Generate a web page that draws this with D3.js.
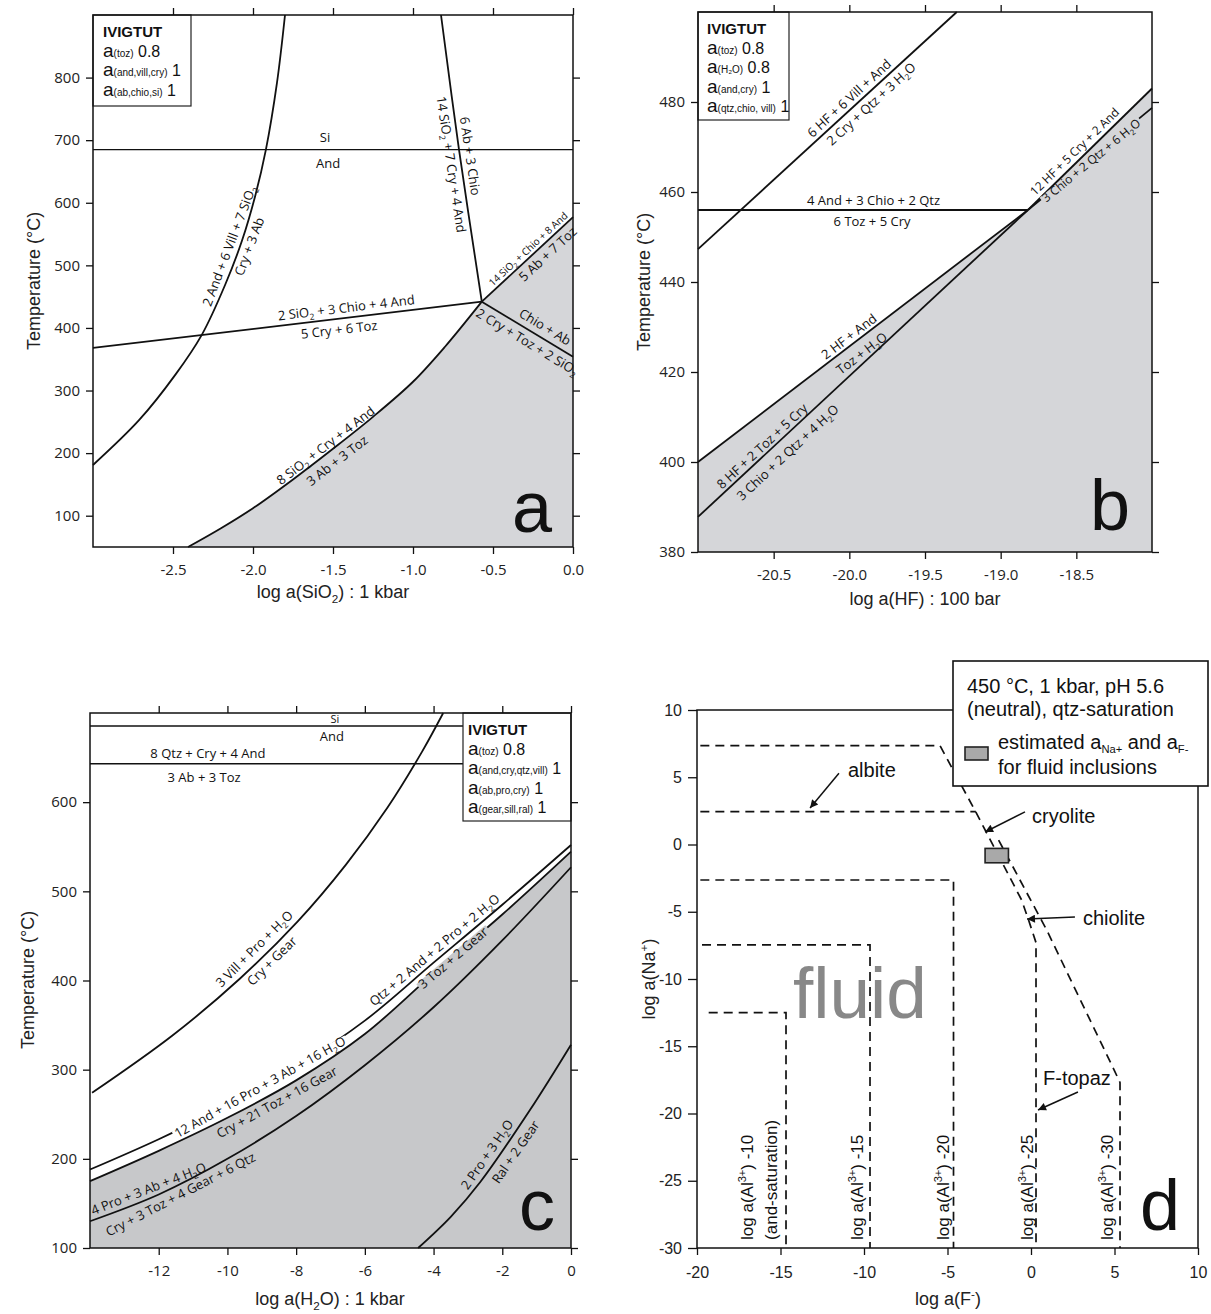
<!DOCTYPE html>
<html>
<head>
<meta charset="utf-8">
<script src="https://cdn.jsdelivr.net/npm/d3@7"></script>
<style>
  body { margin: 0; background: #fff; }
</style>
</head>
<body>
<svg id="fig" width="1211" height="1314"></svg>
<script>
var FR = '"Open Sans", "DejaVu Sans", sans-serif';   // reaction labels, ticks
var FA = '"Liberation Sans", Arial, sans-serif';       // titles, panel d
var GREY_AB = "#d5d6d9", GREY_C = "#c7c8ca";

// ---------------- panel a : log a(SiO2) vs T
var aXTicks = [-2.5, -2, -1.5, -1, -0.5, 0];
var aYTicks = [100, 200, 300, 400, 500, 600, 700, 800];
var aSiAnd = [[-3, 685], [0, 685]];
var aVill = [[-3, 181], [-2.711, 253], [-2.486, 325], [-2.32, 389], [-2.174, 469], [-2.068, 540], [-1.985, 612], [-1.92, 684], [-1.85, 792], [-1.80, 900]];
var aChio = [[-0.825, 900], [-0.7125, 685], [-0.57, 442]];
var aCryToz = [[-3, 368], [-0.57, 442]];
var aAbToz = [[-0.57, 442], [0, 577]];
var aChioAb = [[-0.57, 442], [0, 354]];
var aAnd = [[-2.406, 50], [-2.2, 80], [-2.0, 112], [-1.75, 158], [-1.5, 207], [-1.25, 258], [-1.0, 314], [-0.8, 370], [-0.57, 442]];
// [text, line, position on line, offset px, font size]
var aLabels = [
  ["2 And + 6 Vill + 7 SiO_{2}", aVill, -2.09, 10, 13],
  ["Cry + 3 Ab", aVill, -2.075, -9, 13],
  ["14 SiO_{2} + 7 Cry + 4 And", aChio, -0.70, -10, 13],
  ["6 Ab + 3 Chio", aChio, -0.705, 10, 13],
  ["2 SiO_{2} + 3 Chio + 4 And", aCryToz, -1.41, 10, 13],
  ["5 Cry + 6 Toz", aCryToz, -1.47, -11, 13],
  ["14 SiO_{2} + Chio + 8 And", aAbToz, -0.25, 7, 10],
  ["5 Ab + 7 Toz", aAbToz, -0.2, -10, 13],
  ["Chio + Ab", aChioAb, -0.21, 11, 13],
  ["2 Cry + Toz + 2 SiO_{2}", aChioAb, -0.25, -11, 13],
  ["8 SiO_{2} + Cry + 4 And", aAnd, -1.52, 7, 13],
  ["3 Ab + 3 Toz", aAnd, -1.52, -12, 13]
];
var aFree = [["Si", -1.55, 705], ["And", -1.53, 663]];
var aLegend = [["(toz)", "0.8"], ["(and,vill,cry)", "1"], ["(ab,chio,si)", "1"]];

// ---------------- panel b : log a(HF) vs T
var bXTicks = [-20.5, -20, -19.5, -19, -18.5];
var bYTicks = [380, 400, 420, 440, 460, 480];
var bVill = [[-21, 447.3], [-19.29, 500]];
var bAndQtz = [[-21, 456], [-18.82, 456]];
var bHFAnd = [[-21, 400], [-18.82, 456]];
var bHFToz = [[-21, 387.8], [-18.82, 456]];
var bHFCry = [[-18.82, 456], [-18, 483]];
var bExt = [[-18.82, 456], [-18, 478.7]];
var bLabels = [
  ["6 HF + 6 Vill + And", bVill, -19.96, 9, 13],
  ["2 Cry + Qtz + 3 H_{2}O", bVill, -19.90, -10, 13],
  ["4 And + 3 Chio + 2 Qtz", bAndQtz, -19.84, 10, 13],
  ["6 Toz + 5 Cry", bAndQtz, -19.85, -11, 13],
  ["12 HF + 5 Cry + 2 And", bHFCry, -18.47, 9, 12],
  ["2 HF + And", bHFAnd, -19.97, 8, 13],
  ["Toz + H_{2}O", bHFAnd, -19.97, -13, 13],
  ["8 HF + 2 Toz + 5 Cry", bHFToz, -20.54, 8, 13],
  ["3 Chio + 2 Qtz + 4 H_{2}O", bHFToz, -20.47, -14, 13]
];
var bOnLine = [["3 Chio + 2 Qtz + 6 H_{2}O", bExt, -18.41, -2, 12]];
var bLegend = [["(toz)", "0.8"], ["(H\u2082O)", "0.8"], ["(and,cry)", "1"], ["(qtz,chio, vill)", "1"]];

// ---------------- panel c : log a(H2O) vs T
var cXTicks = [-12, -10, -8, -6, -4, -2, 0];
var cYTicks = [100, 200, 300, 400, 500, 600];
var cSiAnd = [[-14, 685.4], [0, 685.4]];
var cQtzAb = [[-14, 643], [0, 643]];
var cVill = [[-13.94, 274], [-11.61, 338], [-9.64, 402], [-7.96, 466], [-6.55, 530], [-5.34, 594], [-4.33, 657], [-3.72, 700]];
var cLineA = [[-14, 188], [-12, 222], [-10, 260], [-8, 303], [-6, 355], [-4, 420], [-2, 485], [0, 552]];
var cLineB = [[-14, 175], [-12, 209], [-10, 246], [-8, 288], [-6, 340], [-4, 408], [-2, 474], [0, 544.5]];
var cLineC = [[-14, 130], [-12, 160], [-10, 200], [-8, 248], [-6, 305], [-4, 370], [-2, 445], [0, 527]];
var cRal = [[-4.45, 100], [-3.5, 135], [-2.64, 174], [-1.19, 255], [0, 328]];
var cLabels = [
  ["3 Vill + Pro + H_{2}O", cVill, -8.99, 11, 13],
  ["Cry + Gear", cVill, -8.91, -10, 13],
  ["Cry + 21 Toz + 16 Gear", cLineB, -8.7, -10, 13],
  ["Qtz + 2 And + 2 Pro + 2 H_{2}O", cLineA, -3.8, 9, 13],
  ["4 Pro + 3 Ab + 4 H_{2}O", cLineC, -12.2, 9, 13],
  ["Cry + 3 Toz + 4 Gear + 6 Qtz", cLineC, -11.5, -10, 13],
  ["2 Pro + 3 H_{2}O", cRal, -2.2, 10, 13],
  ["Ral + 2 Gear", cRal, -1.9, -12, 13]
];
var cOnLine = [
  ["12 And + 16 Pro + 3 Ab + 16 H_{2}O", cLineA, -9.05, 0, 13, "#fff"],
  ["3 Toz + 2 Gear", cLineB, -3.45, -1, 13, GREY_C]
];
var cFree = [["Si", -6.87, 693.3, 11], ["And", -6.96, 674.2, 13], ["8 Qtz + Cry + 4 And", -10.57, 655, 13], ["3 Ab + 3 Toz", -10.68, 628, 13]];
var cLegend = [["(toz)", "0.8"], ["(and,cry,qtz,vill)", "1"], ["(ab,pro,cry)", "1"], ["(gear,sill,ral)", "1"]];

// ---------------- panel d : log a(F-) vs log a(Na+)
var dXTicks = [-20, -15, -10, -5, 0, 5, 10];
var dYTicks = [-30, -25, -20, -15, -10, -5, 0, 5, 10];
var dAl10 = [[-19.3, -12.5], [-14.67, -12.5], [-14.67, -30]];
var dAl15 = [[-19.7, -7.47], [-9.64, -7.47], [-9.64, -30]];
var dAl20 = [[-19.8, -2.64], [-4.64, -2.64], [-4.64, -30]];
var dAlbite = [[-19.8, 2.44], [-3.3, 2.44]];
var dAl25 = [[-19.8, 7.35], [-5.45, 7.35], [-3.3, 2.4], [-0.56, -4.13], [-0.15, -5.6], [0.3, -7.3], [0.3, -30]];
var dAl30 = [[-1.94, 0.33], [0.94, -6.36], [5.03, -16.9], [5.33, -17.7], [5.33, -30]];
var dInclusion = [[-2.75, -1.36], [-1.35, -0.29]];
var dNotes = [["albite", -10.96, 5.0], ["cryolite", 0.06, 1.6], ["chiolite", 3.11, -6.0], ["F-topaz", 0.72, -17.9]];
var dArrows = [[[-11.5, 5.3], [-13.23, 2.71]], [[-0.36, 2.42], [-2.75, 0.93]], [[2.63, -5.39], [-0.24, -5.54]], [[2.81, -18.4], [0.42, -19.74]]];
var dAlLabels = [["log a(Al^{3+}) -10", -17.0], ["(and-saturation)", -15.55], ["log a(Al^{3+}) -15", -10.42],
                 ["log a(Al^{3+}) -20", -5.27], ["log a(Al^{3+}) -25", -0.24], ["log a(Al^{3+}) -30", 4.55]];

var svg = d3.select("#fig");
svg.append("rect").attr("width", 1211).attr("height", 1314).attr("fill", "#fff");
svg.append("defs").append("marker").attr("id", "arr")
  .attr("viewBox", "0 0 10 10").attr("refX", 10).attr("refY", 5)
  .attr("markerWidth", 12).attr("markerHeight", 8).attr("markerUnits", "userSpaceOnUse").attr("orient", "auto")
  .append("path").attr("d", "M0,0L10,5L0,10z").attr("fill", "#111");

// text with _{sub} and ^{sup}
function rich(t, s, fs, small) {
  var re = /([_^])\{([^}]*)\}/g, last = 0, cur = 0, m;
  function add(str, off, size) {
    t.append("tspan").attr("dy", off - cur).attr("font-size", size || null).text(str);
    cur = off;
  }
  while ((m = re.exec(s)) !== null) {
    if (m.index > last) add(s.slice(last, m.index), 0);
    add(m[2], m[1] === "_" ? fs * 0.25 : -fs * 0.4, fs * (small || 0.65));
    last = re.lastIndex;
  }
  if (last < s.length) add(s.slice(last), 0);
}

function panel(l, r, t, b, xd, yd) {
  return {
    g: svg.append("g"), l: l, r: r, t: t, b: b,
    x: d3.scaleLinear().domain(xd).range([l, r]),
    y: d3.scaleLinear().domain(yd).range([b, t])
  };
}
function pt(p, d) { return [p.x(d[0]), p.y(d[1])]; }
function pathD(p, pts) {
  var ln = d3.line();
  if (pts.length > 2) ln.curve(d3.curveCatmullRom.alpha(0.5));
  return ln(pts.map(function(d) { return pt(p, d); }));
}
function drawLine(p, pts, w, dash) {
  p.g.append("path").attr("d", pathD(p, pts)).attr("fill", "none")
    .attr("stroke", "#111").attr("stroke-width", w || 1.8)
    .attr("stroke-dasharray", dash || null).attr("stroke-linejoin", "round");
}
// position and angle at X along a polyline, shifted off px towards the text top
function onLine(p, pts, X, off) {
  var i = 0;
  while (i < pts.length - 2 && pts[i + 1][0] < X) i++;
  var a = pt(p, pts[i]), b = pt(p, pts[i + 1]);
  var k = (p.x(X) - a[0]) / (b[0] - a[0]);
  var px = a[0] + k * (b[0] - a[0]), py = a[1] + k * (b[1] - a[1]);
  var len = Math.hypot(b[0] - a[0], b[1] - a[1]);
  var dx = (b[0] - a[0]) / len, dy = (b[1] - a[1]) / len;
  return { x: px + off * dy, y: py - off * dx, ang: Math.atan2(dy, dx) * 180 / Math.PI };
}
function label(p, s, x, y, ang, fs, bg, fam) {
  var g = p.g.append("g").attr("transform", "translate(" + x + "," + y + ") rotate(" + ang + ")");
  var r = bg ? g.append("rect") : null;
  var t = g.append("text").attr("y", fs * 0.35).attr("text-anchor", "middle")
    .attr("font-family", fam || FR).attr("font-size", fs).attr("fill", "#111");
  rich(t, s, fs);
  if (r) {
    var bb = t.node().getBBox();
    r.attr("x", bb.x - 2).attr("width", bb.width + 4).attr("y", -4).attr("height", 8).attr("fill", bg);
  }
}
function lineLabels(p, list) {
  list.forEach(function(d) {
    var q = onLine(p, d[1], d[2], d[3]);
    label(p, d[0], q.x, q.y, q.ang, d[4], d[5]);
  });
}
function axes(p, xt, yt, xf, yf, o) {
  o = o || {};
  var fs = o.fs || 15, fam = o.fam || FR;
  var gs = [];
  gs.push(p.g.append("g").attr("transform", "translate(" + p.l + ",0)")
    .call(d3.axisLeft(p.y).tickValues(yt).tickSize(o.ly || 7).tickPadding(6).tickFormat(yf)));
  gs.push(p.g.append("g").attr("transform", "translate(0," + p.b + ")")
    .call(d3.axisBottom(p.x).tickValues(xt).tickSize(7).tickPadding(o.pad || 10).tickFormat(xf)));
  if (!o.noTR) {
    gs.push(p.g.append("g").attr("transform", "translate(0," + p.t + ")")
      .call(d3.axisTop(p.x).tickValues(xt).tickSize(7).tickFormat("")));
    gs.push(p.g.append("g").attr("transform", "translate(" + p.r + ",0)")
      .call(d3.axisRight(p.y).tickValues(yt).tickSize(7).tickFormat("")));
  }
  gs.forEach(function(g) {
    g.select(".domain").remove();
    g.selectAll(".tick line").attr("stroke", "#111").attr("stroke-width", 1.3);
    g.selectAll(".tick text").attr("font-family", fam).attr("font-size", fs).attr("fill", "#222");
  });
}
function frame(p) {
  p.g.append("rect").attr("x", p.l).attr("y", p.t).attr("width", p.r - p.l).attr("height", p.b - p.t)
    .attr("fill", "none").attr("stroke", "#111").attr("stroke-width", 1.5);
}
function titles(p, xs, ys, xpos, ypos) {
  var t = p.g.append("text").attr("x", xpos[0]).attr("y", xpos[1]).attr("text-anchor", "middle")
    .attr("font-family", FA).attr("font-size", 18).attr("fill", "#222");
  rich(t, xs, 18);
  var u = p.g.append("text").attr("transform", "translate(" + ypos[0] + "," + ypos[1] + ") rotate(-90)")
    .attr("text-anchor", "middle").attr("font-family", FA).attr("font-size", 18).attr("fill", "#222");
  rich(u, ys, 18);
}
function ivigtut(p, x0, y0, w, h, rows, tx) {
  var g = p.g.append("g").attr("transform", "translate(" + x0 + "," + y0 + ")");
  g.append("rect").attr("width", w).attr("height", h).attr("fill", "#fff").attr("stroke", "#222").attr("stroke-width", 1.2);
  g.append("text").attr("x", tx).attr("y", 22).attr("font-family", FA).attr("font-weight", "bold")
    .attr("font-size", 15).attr("fill", "#111").text("IVIGTUT");
  rows.forEach(function(r, i) {
    var t = g.append("text").attr("x", tx).attr("y", 42 + i * 19.4).attr("font-family", FA).attr("fill", "#111");
    t.append("tspan").attr("font-size", 19).text("a");
    t.append("tspan").attr("font-size", 10).text(r[0]);
    t.append("tspan").attr("font-size", 16).text(" " + r[1]);
  });
}
function letter(p, s, X, Y) {
  p.g.append("text").attr("x", p.x(X)).attr("y", p.y(Y)).attr("text-anchor", "end")
    .attr("font-family", FA).attr("font-size", 72).attr("fill", "#111").text(s);
}
var f1 = function(d) { return d.toFixed(1); };
var f0 = function(d) { return String(d); };

// ===== panel a
var pa = panel(93, 573, 15, 547, [-3, 0], [50, 900]);
pa.g.append("path").attr("fill", GREY_AB)
  .attr("d", pathD(pa, aAnd) + "L" + pt(pa, [0, 577]) + "L" + pt(pa, [0, 50]) + "Z");
drawLine(pa, aSiAnd, 1.3);
[aVill, aChio, aCryToz, aAbToz, aChioAb, aAnd].forEach(function(l) { drawLine(pa, l); });
lineLabels(pa, aLabels);
aFree.forEach(function(d) { label(pa, d[0], pa.x(d[1]), pa.y(d[2]), 0, 13); });
letter(pa, "a", -0.131, 74);
ivigtut(pa, pa.l, pa.t, 98, 91, aLegend, 10);
frame(pa);
axes(pa, aXTicks, aYTicks, f1, f0);
titles(pa, "log a(SiO_{2}) : 1 kbar", "Temperature (\u00B0C)", [333, 598], [40, 281]);

// ===== panel b
var pb = panel(698, 1152, 12, 552, [-21, -18], [380, 500]);
pb.g.append("path").attr("fill", GREY_AB)
  .attr("d", d3.line()([pt(pb, bHFAnd[0]), pt(pb, bHFAnd[1]), pt(pb, bHFCry[1]), pt(pb, [-18, 380]), pt(pb, [-21, 380])]) + "Z");
[bVill, bAndQtz, bHFAnd, bHFToz, bHFCry, bExt].forEach(function(l) { drawLine(pb, l); });
lineLabels(pb, bLabels);
bOnLine.forEach(function(d) { d[5] = GREY_AB; });
lineLabels(pb, bOnLine);
letter(pb, "b", -18.145, 384.9);
ivigtut(pb, pb.l, pb.t, 91, 108, bLegend, 9);
frame(pb);
axes(pb, bXTicks, bYTicks, f1, f0);
titles(pb, "log a(HF) : 100 bar", "Temperature (\u00B0C)", [925, 605], [650, 282]);

// ===== panel c
var pc = panel(90, 571, 713, 1248, [-14, 0], [100, 700]);
pc.g.append("path").attr("fill", GREY_C)
  .attr("d", pathD(pc, cLineB) + "L" + pt(pc, [0, 100]) + "L" + pt(pc, [-14, 100]) + "Z");
drawLine(pc, cSiAnd, 1.3);
drawLine(pc, cQtzAb, 1.5);
[cVill, cLineA, cLineB, cLineC, cRal].forEach(function(l) { drawLine(pc, l); });
lineLabels(pc, cLabels);
lineLabels(pc, cOnLine);
cFree.forEach(function(d) { label(pc, d[0], pc.x(d[1]), pc.y(d[2]), 0, d[3]); });
letter(pc, "c", -0.467, 120);
ivigtut(pc, pc.r - 108, pc.t, 108, 108, cLegend, 5);
frame(pc);
axes(pc, cXTicks, cYTicks, f0, f0);
titles(pc, "log a(H_{2}O) : 1 kbar", "Temperature (\u00B0C)", [330, 1305], [34, 980]);

// ===== panel d
var pd = panel(697, 1198, 710, 1248, [-20, 10], [-30, 10]);
frame(pd);
axes(pd, dXTicks, dYTicks, f0, f0, { noTR: true, fs: 16, fam: FA, ly: 9, pad: 12 });
[dAl10, dAl15, dAl20, dAlbite, dAl25, dAl30].forEach(function(l) {
  pd.g.append("path").attr("d", d3.line()(l.map(function(d) { return pt(pd, d); })))
    .attr("fill", "none").attr("stroke", "#111").attr("stroke-width", 1.7).attr("stroke-dasharray", "9,6");
});
pd.g.append("rect").attr("x", pd.x(dInclusion[0][0])).attr("y", pd.y(dInclusion[1][1]))
  .attr("width", pd.x(dInclusion[1][0]) - pd.x(dInclusion[0][0]))
  .attr("height", pd.y(dInclusion[0][1]) - pd.y(dInclusion[1][1]))
  .attr("fill", "#a9a9a9").attr("stroke", "#222").attr("stroke-width", 1.6);
pd.g.append("text").attr("x", pd.x(-14.25)).attr("y", pd.y(-12.9)).attr("font-family", FA)
  .attr("font-size", 73).attr("fill", "#888").text("fluid");
dNotes.forEach(function(d) {
  pd.g.append("text").attr("x", pd.x(d[1])).attr("y", pd.y(d[2])).attr("font-family", FA)
    .attr("font-size", 20).attr("fill", "#111").text(d[0]);
});
dArrows.forEach(function(a) {
  pd.g.append("line").attr("x1", pd.x(a[0][0])).attr("y1", pd.y(a[0][1]))
    .attr("x2", pd.x(a[1][0])).attr("y2", pd.y(a[1][1]))
    .attr("stroke", "#111").attr("stroke-width", 1.5).attr("marker-end", "url(#arr)");
});
dAlLabels.forEach(function(d) {
  var t = pd.g.append("text").attr("transform", "translate(" + pd.x(d[1]) + "," + pd.y(-29.4) + ") rotate(-90)")
    .attr("y", 6).attr("font-family", FA).attr("font-size", 17).attr("fill", "#111");
  rich(t, d[0], 17);
});
letter(pd, "d", 8.92, -28.66);
// legend box
var lg = pd.g.append("g").attr("transform", "translate(953,661)");
lg.append("rect").attr("width", 255).attr("height", 125).attr("fill", "#fff").attr("stroke", "#111").attr("stroke-width", 1.6);
lg.append("text").attr("x", 14).attr("y", 32).attr("font-family", FA).attr("font-size", 20).attr("fill", "#111").text("450 \u00B0C, 1 kbar, pH 5.6");
lg.append("text").attr("x", 14).attr("y", 55).attr("font-family", FA).attr("font-size", 20).attr("fill", "#111").text("(neutral), qtz-saturation");
lg.append("rect").attr("x", 12).attr("y", 86).attr("width", 23).attr("height", 13).attr("fill", "#a9a9a9").attr("stroke", "#222").attr("stroke-width", 1.6);
var lt = lg.append("text").attr("x", 45).attr("y", 88).attr("font-family", FA).attr("font-size", 20).attr("fill", "#111");
rich(lt, "estimated a_{Na+} and a_{F-}", 16, 0.7);
lt.selectAll("tspan").filter(function(d, i) { return i % 2 === 0; }).attr("font-size", 20);
lg.append("text").attr("x", 45).attr("y", 113).attr("font-family", FA).attr("font-size", 20).attr("fill", "#111").text("for fluid inclusions");
titles(pd, "log a(F^{-})", "log a(Na^{+})", [948, 1305], [655, 979]);
</script>
</body>
</html>
